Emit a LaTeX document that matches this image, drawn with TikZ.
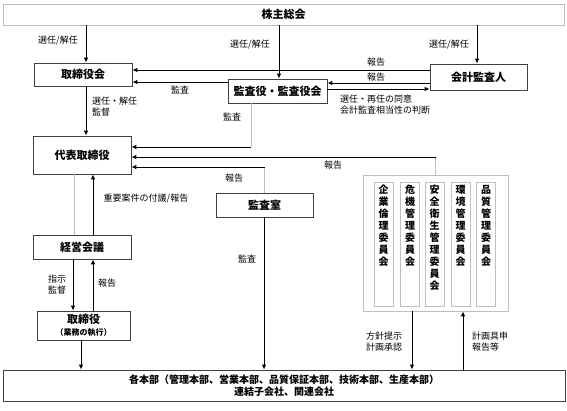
\documentclass[tikz,border=0pt]{standalone}
\usepackage{fontspec}
\setmainfont{Noto Sans CJK JP}
\usetikzlibrary{arrows.meta}
\definecolor{boxline}{HTML}{404040}
\definecolor{paleline}{HTML}{BFBFBF}
\newcommand{\vtext}[1]{\parbox[t][118pt][t]{13pt}{\centering #1}}

\begin{document}
\begin{tikzpicture}[x=1pt,y=-1pt,
    box/.style={draw=boxline,line width=0.8pt,fill=white,inner sep=2pt,
      font=\fontsize{11}{13}\selectfont\bfseries},
    iin/.style={draw=paleline,line width=0.8pt,inner sep=3pt,
      font=\fontsize{10}{12}\selectfont\bfseries},
    lbl/.style={font=\fontsize{9}{11}\selectfont,inner sep=0pt},
    arr/.style={-{Latex[length=5pt,width=4.5pt]},line width=0.9pt},
    gline/.style={draw=paleline,line width=0.9pt}]
\useasboundingbox (0,0) rectangle (567,411);

\node[box,draw=paleline,minimum width=561pt,minimum height=21pt] (kabu) at (283.5,14.5) {株主総会};
\node[box,minimum width=98pt,minimum height=23pt] (torikai) at (83,74.5) {取締役会};
\node[box,minimum width=99pt,minimum height=24pt] (kansayaku) at (277.5,91) {監査役・監査役会};
\node[box,minimum width=97pt,minimum height=26pt] (kaikei) at (478.5,77) {会計監査人};
\node[box,minimum width=98pt,minimum height=38pt] (daihyo) at (82,155) {代表取締役};
\node[box,minimum width=97pt,minimum height=24pt] (kansashitsu) at (264.5,205) {監査室};
\node[box,minimum width=98pt,minimum height=24pt] (keiei) at (82,247) {経営会議};
\node[box,minimum width=93pt,minimum height=29pt,align=center] (tori) at (83.5,325.5)
  {取締役\\[-1pt]{\fontsize{8}{10}\selectfont （業務の執行）}};
\node[box,minimum width=562pt,minimum height=31pt,align=center,
  font=\fontsize{10}{12}\selectfont\bfseries] (honbu) at (284,385.5)
  {各本部（管理本部、営業本部、品質保証本部、技術本部、生産本部）\\連結子会社、関連会社};

% 委員会
\node[draw=paleline,line width=0.8pt,minimum width=145pt,minimum height=136pt] (iinkai) at (435.5,243) {};
\node[iin] (rinri) at (383.5,244) {\vtext{企\\業\\倫\\理\\委\\員\\会}};
\node[iin] (kiki) at (410,244) {\vtext{危\\機\\管\\理\\委\\員\\会}};
\node[iin] (anzen) at (434.5,244) {\vtext{安\\全\\衛\\生\\管\\理\\委\\員\\会}};
\node[iin] (kankyo) at (460.5,244) {\vtext{環\\境\\管\\理\\委\\員\\会}};
\node[iin] (hinshitsu) at (486,244) {\vtext{品\\質\\管\\理\\委\\員\\会}};

% 株主総会から
\draw[arr] (kabu.south -| 86,0) -- (torikai.north -| 86,0);
\draw[arr] (kabu.south -| 279,0) -- (kansayaku.north -| 279,0);
\draw[arr] (kabu.south -| 477,0) -- (kaikei.north -| 477,0);
\node[lbl] (l1) at (58,41) {選任/解任};
\node[lbl] (l2) at (250,45) {選任/解任};
\node[lbl] (l3) at (449,45) {選任/解任};

% 会計監査人・監査役
\draw[arr] (kaikei.west |- 0,70) -- (torikai.east |- 0,70);
\draw[arr] (kaikei.west |- 0,83) -- (kansayaku.east |- 0,83);
\draw[arr] (kansayaku.east |- 0,89) -- (kaikei.west |- 0,89);
\draw[arr] (kansayaku.west |- 0,82) -- (torikai.east |- 0,82);
\node[lbl] (l4) at (376,62) {報告};
\node[lbl] (l5) at (376,77) {報告};
\node[lbl] (l6) at (180,90) {監査};
\node[lbl,align=left,anchor=west] (l7) at (340,104.5) {選任・再任の同意\\会計監査相当性の判断};

% 代表取締役へ
\draw[arr] (torikai.south -| 86,0) -- (daihyo.north -| 86,0);
\node[lbl,align=left,anchor=west] (l8) at (92,106.5) {選任・解任\\ 監督};
\coordinate (c1) at (251,147);
\coordinate (c2) at (435.5,157);
\coordinate (c3) at (264.5,167);
\draw[gline] (kansayaku.south -| c1) -- (c1);
\draw[arr] (c1) -- (daihyo.east |- c1);
\draw[gline] (iinkai.north) -- (c2);
\draw[arr] (c2) -- (daihyo.east |- c2);
\draw[gline] (kansashitsu.north) -- (c3);
\draw[arr] (c3) -- (daihyo.east |- c3);
\node[lbl] (l9) at (232,117) {監査};
\node[lbl] (l10) at (333,165) {報告};
\node[lbl] (l11) at (234,178) {報告};

% 経営会議・取締役
\draw[gline] (daihyo.south -| 74,0) -- (keiei.north -| 74,0);
\draw[arr] (keiei.north -| 93,0) -- (daihyo.south -| 93,0);
\node[lbl] (l12) at (146,199) {重要案件の付議/報告};
\draw[arr] (keiei.south -| 73,0) -- (tori.north -| 73,0);
\draw[arr] (tori.north -| 93,0) -- (keiei.south -| 93,0);
\node[lbl,align=center] (l13) at (57,284.5) {指示\\監督};
\node[lbl] (l14) at (107,283) {報告};

% 各本部へ
\draw[arr] (tori.south -| 81,0) -- (honbu.north -| 81,0);
\draw[arr] (kansashitsu.south -| 264,0) -- (honbu.north -| 264,0);
\node[lbl] (l15) at (247,259) {監査};
\draw[arr] (iinkai.south -| 412,0) -- (honbu.north -| 412,0);
\draw[arr] (honbu.north -| 463,0) -- (iinkai.south -| 463,0);
\node[lbl,align=center] (l16) at (384,342) {方針提示\\計画承認};
\node[lbl,align=left,anchor=west] (l17) at (472,342) {計画具申\\報告等};
\end{tikzpicture}
\end{document}
